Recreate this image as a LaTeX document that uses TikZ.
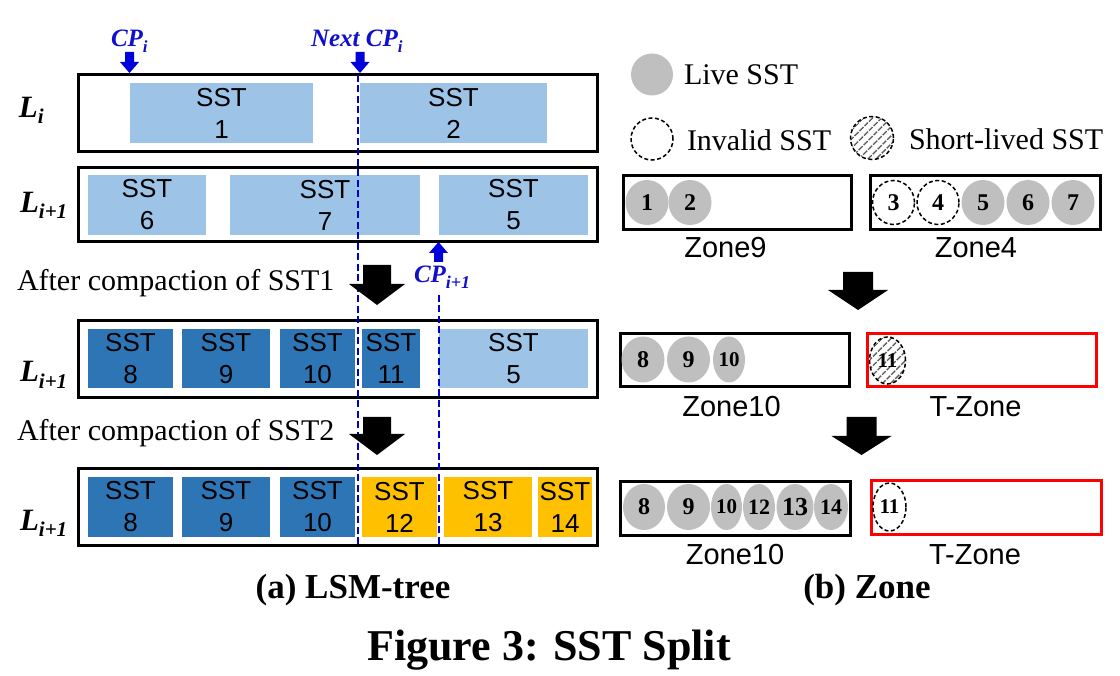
\documentclass[tikz,border=0pt]{standalone}
\usepackage{fontspec}
\setmainfont{Liberation Serif}
\setsansfont{Liberation Sans}
\usetikzlibrary{shapes.geometric,patterns.meta}
\definecolor{lightsst}{HTML}{9DC3E6}
\definecolor{darksst}{HTML}{2E75B6}
\definecolor{orangesst}{HTML}{FFC000}
\definecolor{livegray}{HTML}{BFBFBF}
\definecolor{cpblue}{HTML}{1010CC}
\definecolor{lineblue}{HTML}{0000C8}
\definecolor{arrowblue}{HTML}{0000DD}
\definecolor{hatchgray}{HTML}{5A5A5A}
\newcommand{\myfs}[1]{\fontsize{#1}{#1}\selectfont}
\newcommand{\Llab}[1]{\bfseries\itshape\myfs{31}L\raisebox{-6pt}{\myfs{21}#1}}
\newcommand{\CPlab}[3]{\bfseries\itshape\myfs{25}#1\raisebox{-6pt}{\myfs{#3}#2}}
% name, x1, x2, y1, y2, colour, number
\newcommand{\sstnode}[7]{\node[sstbox,fill=#6,minimum width={#3-#2},minimum height={#5-#4}] (#1) at ({(#2+#3)/2},{(#4+#5)/2}) {SST\\#7};}
% name, x1, y1, x2, y2 (outer edges), colour
\newcommand{\zbox}[6]{\node[framestyle,draw=#6,minimum width={#4-#2-3.4},minimum height={#5-#3-3.4}] (#1) at ({(#2+#4)/2},{(#3+#5)/2}) {};}
% x, ytop, ytip, shaft half width, head half width, head height, colour
\newcommand{\myblockarrow}[7]{\fill[#7] ({#1-#4},#2) -- ({#1+#4},#2) -- ({#1+#4},{#3-(#6)}) -- ({#1+#5},{#3-(#6)}) -- (#1,#3) -- ({#1-#5},{#3-(#6)}) -- ({#1-#4},{#3-(#6)}) -- cycle;}
\tikzset{
  sstbox/.style={rectangle,inner sep=0pt,outer sep=0pt,align=center,font=\sffamily\fontsize{26}{32}\selectfont},
  framestyle/.style={rectangle,line width=3.4pt,inner sep=0pt,outer sep=0pt},
  txt/.style={inner sep=0pt,outer sep=0pt},
  live/.style={ellipse,fill=livegray,inner sep=0pt,font=\bfseries\myfs{24}},
  invalid/.style={ellipse,draw=black,line width=1.5pt,dash pattern=on 4pt off 2.5pt,inner sep=0pt,font=\bfseries\myfs{24}},
  shortlived/.style={invalid,pattern={Lines[angle=45,distance=6.5pt,line width=1.8pt]},pattern color=hatchgray},
  cpline/.style={draw=lineblue,line width=2pt,dash pattern=on 7pt off 3.5pt},
}
\begin{document}
\begin{tikzpicture}[x=1pt,y=-1pt]
\useasboundingbox (0,0) rectangle (1120,676);
% ---------------- (a) LSM-tree ----------------
\zbox{box1}{77}{73}{599}{153}{black}
\zbox{box2}{77}{166}{599}{243}{black}
\zbox{box3}{77}{319}{599}{399}{black}
\zbox{box4}{77}{467}{599}{547}{black}
\sstnode{s1}{130}{313}{83}{143}{lightsst}{1}
\sstnode{s2}{360}{547}{83}{143}{lightsst}{2}
\sstnode{s6}{88}{206}{175}{235}{lightsst}{6}
\sstnode{s7}{230}{420}{175}{235}{lightsst}{7}
\sstnode{s5}{439}{588}{175}{235}{lightsst}{5}
\sstnode{r3s8}{88}{173}{329}{388}{darksst}{8}
\sstnode{r3s9}{182}{270}{329}{388}{darksst}{9}
\sstnode{r3s10}{280}{355}{329}{388}{darksst}{10}
\sstnode{r3s11}{362}{420}{329}{388}{darksst}{11}
\sstnode{r3s5}{439}{588}{329}{388}{lightsst}{5}
\sstnode{r4s8}{88}{173}{477}{537}{darksst}{8}
\sstnode{r4s9}{182}{270}{477}{537}{darksst}{9}
\sstnode{r4s10}{280}{355}{477}{537}{darksst}{10}
\sstnode{r4s12}{362}{437}{477}{537}{orangesst}{12}
\sstnode{r4s13}{444}{532}{477}{537}{orangesst}{13}
\sstnode{r4s14}{538}{592}{477}{537}{orangesst}{14}
% level labels
\node[txt,anchor=base west] (L1) at (19,118) {\Llab{i}};
\node[txt,anchor=base west] (L2) at (20,213) {\Llab{i+1}};
\node[txt,anchor=base west] (L3) at (20,382) {\Llab{i+1}};
\node[txt,anchor=base west] (L4) at (20,530) {\Llab{i+1}};
% compaction pointers
\node[txt,anchor=base west,text=cpblue] (cpi) at (111,47) {\CPlab{CP}{i}{17}};
\node[txt,anchor=base west,text=cpblue] (ncpi) at (311,47) {\CPlab{Next CP}{i}{17}};
\node[txt,anchor=base west,text=cpblue] (cpi1) at (414,283) {\CPlab{CP}{i+1}{18}};
\myblockarrow{129.5}{52}{73}{4.5}{9.5}{11}{arrowblue}
\myblockarrow{360}{52}{73}{4.5}{9.5}{11}{arrowblue}
\myblockarrow{438.5}{262}{242}{4.5}{9.5}{-11}{arrowblue}
\coordinate (d1top) at (358,75);
\coordinate (d1bot) at (358,547);
\coordinate (d2top) at (438.5,295);
\coordinate (d2bot) at (438.5,547);
\draw[cpline] (d1top) -- (d1bot);
\draw[cpline] (d2top) -- (d2bot);
% compaction steps
\node[txt,anchor=base west,font=\myfs{30}] (after1) at (17,291) {After compaction of SST1};
\node[txt,anchor=base west,font=\myfs{30}] (after2) at (17,441) {After compaction of SST2};
\myblockarrow{377}{265}{305}{14}{28}{21}{black}
\myblockarrow{377}{417}{455}{14}{28}{21}{black}
\node[txt,anchor=base,font=\bfseries\myfs{35}] (capa) at (353,598) {(a) LSM-tree};
% ---------------- (b) Zone ----------------
\node[live,minimum width=42,minimum height=42] (legLive) at (652,74.5) {};
\node[txt,anchor=base west,font=\myfs{30}] (legLiveT) at (684,85) {Live SST};
\node[invalid,minimum width=42,minimum height=42] (legInv) at (652,139) {};
\node[txt,anchor=base west,font=\myfs{30}] (legInvT) at (687,151) {Invalid SST};
\node[shortlived,minimum width=43,minimum height=43] (legShort) at (872,138) {};
\node[txt,anchor=base west,font=\myfs{30}] (legShortT) at (909,150) {Short-lived SST};
% zone rows
\zbox{zone9}{622}{174}{853}{231}{black}
\zbox{zone4}{869}{174}{1102}{231}{black}
\zbox{zoneTa}{619}{332}{851}{388}{black}
\zbox{tzoneA}{866}{332}{1098}{388}{red}
\zbox{zoneTb}{619}{480}{852}{537}{black}
\zbox{tzoneB}{870}{479}{1103}{536}{red}
\node[live,minimum width=43,minimum height=45] (c1) at (647,202.5) {1};
\node[live,minimum width=43,minimum height=45] (c2) at (690,202.5) {2};
\node[invalid,minimum width=42,minimum height=44] (c3) at (893.5,202.5) {3};
\node[invalid,minimum width=42,minimum height=44] (c4) at (938,202.5) {4};
\node[live,minimum width=43,minimum height=45] (c5) at (983,202.5) {5};
\node[live,minimum width=43,minimum height=45] (c6) at (1028,202.5) {6};
\node[live,minimum width=43,minimum height=45] (c7) at (1073,202.5) {7};
\node[txt,anchor=base,font=\sffamily\myfs{29}] (z9lab) at (725.5,258) {Zone9};
\node[txt,anchor=base,font=\sffamily\myfs{29}] (z4lab) at (976,258) {Zone4};
\myblockarrow{858}{272}{310}{15}{30}{20}{black}
\node[live,minimum width=43,minimum height=46] (a8) at (643,359.5) {8};
\node[live,minimum width=43,minimum height=46] (a9) at (688.5,359.5) {9};
\node[live,minimum width=32,minimum height=46,font=\bfseries\myfs{21}] (a10) at (729,359.5) {10};
\node[shortlived,minimum width=36,minimum height=47,font=\bfseries\myfs{21}] (a11) at (887.5,360.5) {11};
\node[txt,anchor=base,font=\sffamily\myfs{29}] (zAlab) at (731.5,417) {Zone10};
\node[txt,anchor=base,font=\sffamily\myfs{29}] (tAlab) at (975.5,417) {T-Zone};
\myblockarrow{861.5}{417}{455}{15}{30}{19}{black}
\node[live,minimum width=42,minimum height=46] (b8) at (644,507) {8};
\node[live,minimum width=43,minimum height=46] (b9) at (688.5,507) {9};
\node[live,minimum width=31,minimum height=46,font=\bfseries\myfs{21}] (b10) at (726.5,507) {10};
\node[live,minimum width=32,minimum height=46,font=\bfseries\myfs{22}] (b12) at (759,507) {12};
\node[live,minimum width=37,minimum height=46,font=\bfseries\myfs{26}] (b13) at (795,507) {13};
\node[live,minimum width=34,minimum height=46,font=\bfseries\myfs{22}] (b14) at (831,507) {14};
\node[invalid,minimum width=33,minimum height=48,font=\bfseries\myfs{21}] (b11) at (889.5,507) {11};
\node[txt,anchor=base,font=\sffamily\myfs{29}] (zBlab) at (735,564) {Zone10};
\node[txt,anchor=base,font=\sffamily\myfs{29}] (tBlab) at (975,564) {T-Zone};
\node[txt,anchor=base,font=\bfseries\myfs{35}] (capb) at (867,598) {(b) Zone};
% figure caption
\node[txt,anchor=base,font=\bfseries\myfs{44}] (caption) at (549,660) {Figure 3: SST Split};
\end{tikzpicture}
\end{document}
